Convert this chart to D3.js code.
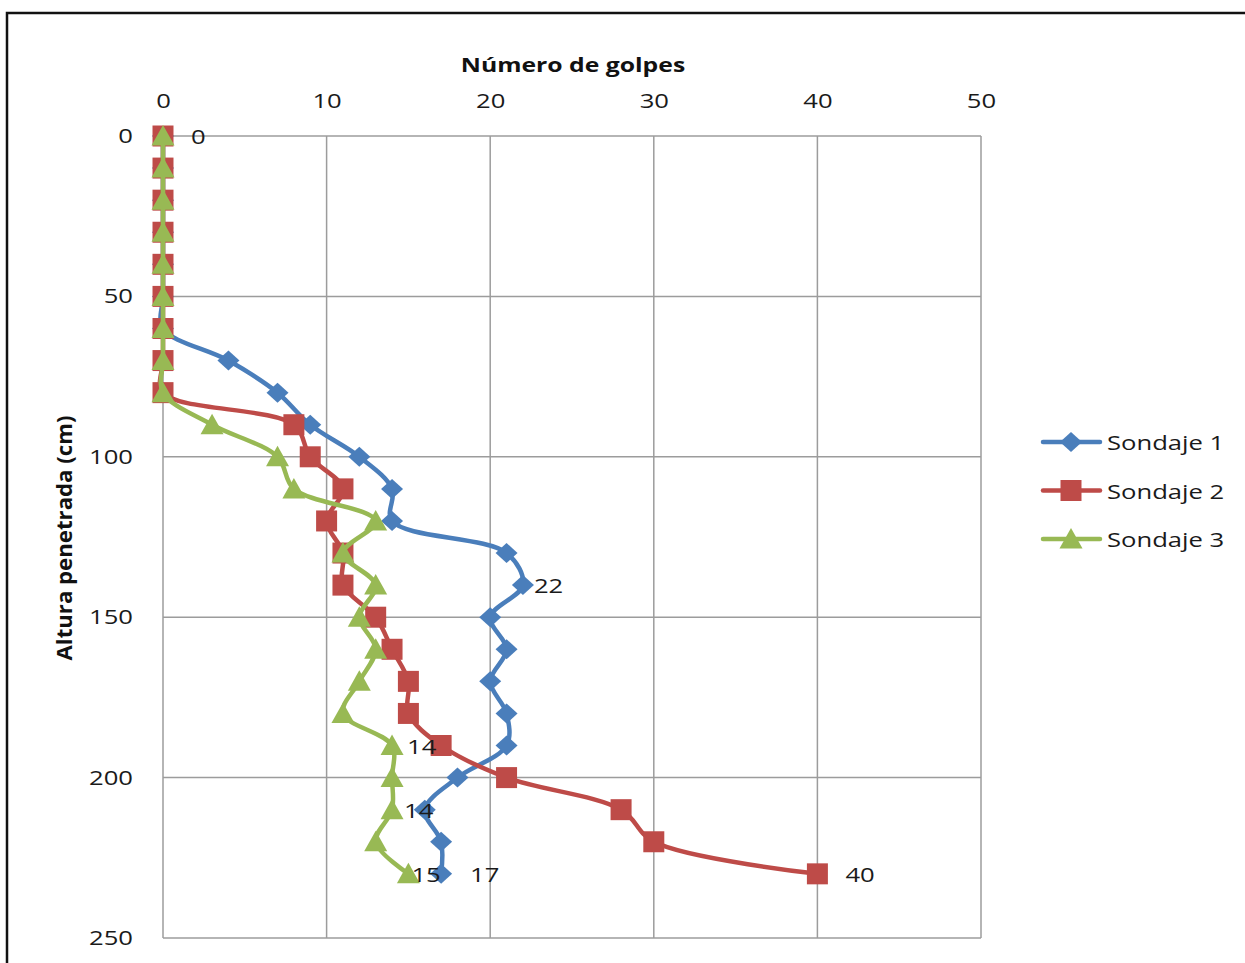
<!DOCTYPE html>
<html><head><meta charset="utf-8">
<script src="https://cdn.jsdelivr.net/npm/d3@7"></script>
<style>body{margin:0;background:#fff}svg{display:block}text{font-family:"Open Sans",sans-serif}</style>
</head><body>
<script>
const depths = [0,10,20,30,40,50,60,70,80,90,100,110,120,130,140,150,160,170,180,190,200,210,220,230];
const sondaje1 = [0,0,0,0,0,0,0,4,7,9,12,14,14,21,22,20,21,20,21,21,18,16,17,17];
const sondaje2 = [0,0,0,0,0,0,0,0,0,8,9,11,10,11,11,13,14,15,15,17,21,28,30,40];
const sondaje3 = [0,0,0,0,0,0,0,0,0,3,7,8,13,11,13,12,13,12,11,14,14,14,13,15];
const seriesNames = ["Sondaje 1","Sondaje 2","Sondaje 3"];
const xTicks = [0,10,20,30,40,50];
const yTicks = [0,50,100,150,200,250];
const xTitle = "Número de golpes";
const yTitle = "Altura penetrada (cm)";
// data labels: series index, point index
const labelSeries = [2,0,2,2,2,0,1];
const labelPoint  = [0,14,19,21,23,23,23];

const colors = ["#4A7EBB","#BE4B48","#98B954"];
const shapes = ["diamond","square","triangle"];
const labelDx = [28,11,15,12,3,29,28];
const SX = 1.25;

const svg = d3.select("body").append("svg").attr("width",1245).attr("height",963);
svg.append("rect").attr("x",7).attr("y",13).attr("width",1400).attr("height",1100)
  .attr("fill","#fff").attr("stroke","#111").attr("stroke-width",2.5);

const x = d3.scaleLinear().domain([0,50]).range([163,981]);
const y = d3.scaleLinear().domain([0,250]).range([136,938]);

// gridlines
const grid = svg.append("g").attr("stroke","#9c9c9c").attr("stroke-width",1.5);
grid.selectAll(".vx").data(xTicks).join("line")
  .attr("x1",d=>x(d)).attr("x2",d=>x(d)).attr("y1",y(0)).attr("y2",y(250));
grid.selectAll(".hy").data(yTicks).join("line")
  .attr("x1",x(0)).attr("x2",x(50)).attr("y1",d=>y(d)).attr("y2",d=>y(d));

// axes
const gx = svg.append("g").attr("transform",`translate(0,${y(0)})`)
  .call(d3.axisTop(x).tickValues(xTicks).tickSize(0).tickPadding(28));
gx.select(".domain").remove();
gx.selectAll("text").attr("font-size",20.5).attr("fill","#1a1a1a").attr("font-family","Open Sans")
  .attr("transform",`scale(${SX},1)`);
const gy = svg.append("g").attr("transform",`translate(${x(0)},0)`)
  .call(d3.axisLeft(y).tickValues(yTicks).tickSize(0).tickPadding(30));
gy.select(".domain").remove();
gy.selectAll("text").attr("font-size",20.5).attr("fill","#1a1a1a").attr("font-family","Open Sans")
  .attr("x",-30/SX).attr("transform",`scale(${SX},1)`);

// titles
svg.append("text").attr("transform",`translate(573,72) scale(${SX},1)`)
  .attr("text-anchor","middle").attr("font-weight","bold").attr("font-size",19.8).attr("fill","#111").text(xTitle);
svg.append("text").attr("transform",`translate(72,538) rotate(-90)`)
  .attr("text-anchor","middle").attr("font-weight","bold").attr("font-size",22.2).attr("fill","#111").text(yTitle);

function markerPath(shape){
  if(shape==="diamond") return "M0,-10L11,0L0,10L-11,0Z";
  if(shape==="square") return "M-10.5,-10.5H10.5V10.5H-10.5Z";
  return "M0,-11L11.5,9.5H-11.5Z";
}

const allSeries = [sondaje1,sondaje2,sondaje3];
const line = d3.line().x(d=>x(d[1])).y(d=>y(d[0])).curve(d3.curveCatmullRom.alpha(0.5));
allSeries.forEach((vals,i)=>{
  const pts = depths.map((dd,j)=>[dd,vals[j]]);
  const g = svg.append("g");
  g.append("path").datum(pts).attr("d",line).attr("fill","none")
    .attr("stroke",colors[i]).attr("stroke-width",4.5).attr("stroke-linejoin","round");
  g.selectAll("path.m").data(pts).join("path").attr("class","m")
    .attr("transform",d=>`translate(${x(d[1])},${y(d[0])})`)
    .attr("d",markerPath(shapes[i])).attr("fill",colors[i]);
});

// data labels
labelSeries.forEach((s,k)=>{
  const j = labelPoint[k];
  const v = allSeries[s][j];
  svg.append("text")
    .attr("transform",`translate(${x(v)+labelDx[k]},${y(depths[j])+8}) scale(${SX},1)`)
    .attr("font-size",20.5).attr("fill","#1a1a1a").text(v);
});

// legend
const lg = svg.append("g");
seriesNames.forEach((n,i)=>{
  const ly = 442 + i*48.5;
  lg.append("line").attr("x1",1043).attr("x2",1100).attr("y1",ly).attr("y2",ly)
    .attr("stroke",colors[i]).attr("stroke-width",4.5).attr("stroke-linecap","round");
  lg.append("path").attr("transform",`translate(1071,${ly})`).attr("d",markerPath(shapes[i]))
    .attr("fill",colors[i]);
  lg.append("text").attr("transform",`translate(1107,${ly+8}) scale(${SX},1)`)
    .attr("font-size",20.5).attr("fill","#1a1a1a").text(n);
});
</script>
</body></html>
